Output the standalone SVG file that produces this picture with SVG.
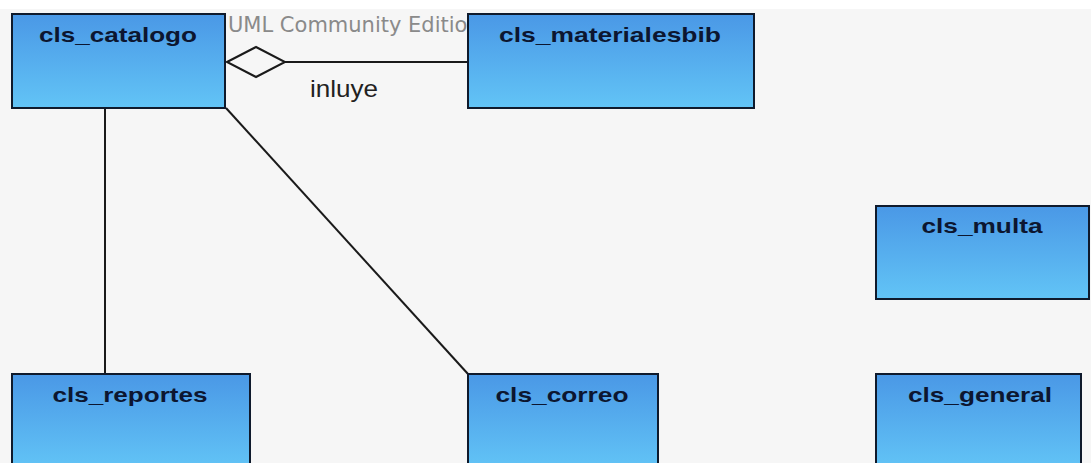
<svg xmlns="http://www.w3.org/2000/svg" width="1091" height="463" viewBox="0 0 1091 463">
  <defs>
    <linearGradient id="clsFill" x1="0" y1="0" x2="0" y2="1">
      <stop offset="0" stop-color="#4a98e6"/>
      <stop offset="1" stop-color="#62c4f6"/>
    </linearGradient>
    <style>
      .cls rect { fill: url(#clsFill); stroke: #0f1a2c; stroke-width: 2; }
      .cls text { font-family: "Liberation Sans", Arial, sans-serif; font-weight: bold; font-size: 21px; fill: #0c1630; text-anchor: middle; }
      .conn line, .conn polygon { stroke: #1a1a1a; stroke-width: 2; }
      .conn polygon { fill: #f6f6f6; }
      .label { font-family: "Liberation Sans", Arial, sans-serif; font-size: 24px; fill: #222; }
      .mark { font-family: "DejaVu Sans", sans-serif; font-size: 21px; fill: #8a8a8a; }
    </style>
  </defs>

  <!-- canvas -->
  <rect x="0" y="0" width="1091" height="463" fill="#ffffff"/>
  <rect x="0" y="9" width="1091" height="454" fill="#f6f6f6"/>

  <!-- edition watermark, the part left clear between the top classes -->
  <text class="mark" x="228" y="32">UML Community Edition</text>

  <!-- connectors -->
  <g id="connectors" class="conn">
    <line x1="285" y1="62" x2="468" y2="62"/>
    <polygon points="227,62 256,47 285,62 256,77"/>
    <line x1="105" y1="108" x2="105" y2="374"/>
    <line x1="226" y1="108" x2="468" y2="374"/>
    <text class="label" x="310" y="97" textLength="68" lengthAdjust="spacingAndGlyphs">inluye</text>
  </g>

  <!-- classes -->
  <g id="cls_catalogo" class="cls">
    <rect x="12" y="14" width="213" height="94"/>
    <text x="118" y="42" textLength="158" lengthAdjust="spacingAndGlyphs">cls_catalogo</text>
  </g>
  <g id="cls_materialesbib" class="cls">
    <rect x="468" y="14" width="286" height="94"/>
    <text x="610" y="42" textLength="222" lengthAdjust="spacingAndGlyphs">cls_materialesbib</text>
  </g>
  <g id="cls_multa" class="cls">
    <rect x="876" y="206" width="213" height="93"/>
    <text x="982" y="233" textLength="121" lengthAdjust="spacingAndGlyphs">cls_multa</text>
  </g>
  <g id="cls_reportes" class="cls">
    <rect x="12" y="374" width="238" height="95"/>
    <text x="130" y="402" textLength="155" lengthAdjust="spacingAndGlyphs">cls_reportes</text>
  </g>
  <g id="cls_correo" class="cls">
    <rect x="468" y="374" width="190" height="95"/>
    <text x="562" y="402" textLength="133" lengthAdjust="spacingAndGlyphs">cls_correo</text>
  </g>
  <g id="cls_general" class="cls">
    <rect x="876" y="374" width="205" height="95"/>
    <text x="980" y="402" textLength="144" lengthAdjust="spacingAndGlyphs">cls_general</text>
  </g>
</svg>
